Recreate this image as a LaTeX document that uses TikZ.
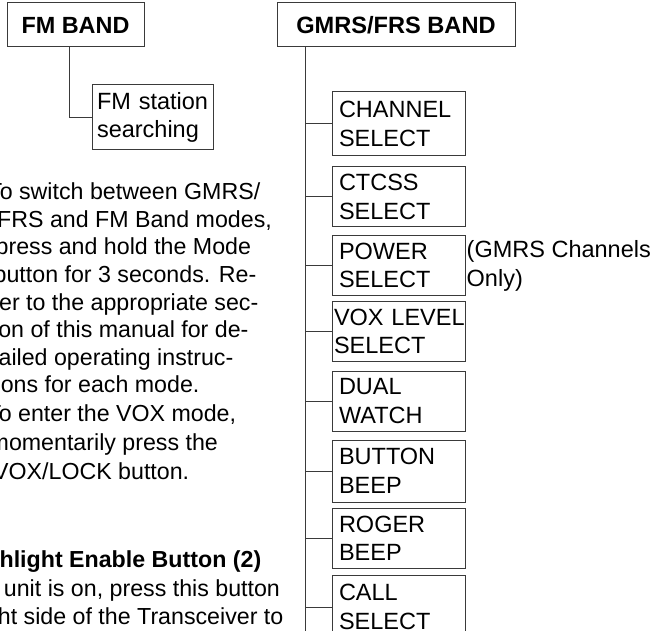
\documentclass[tikz,border=0pt]{standalone}
\usepackage{fontspec}
\setmainfont{Liberation Sans}
\usetikzlibrary{positioning}
\definecolor{boxline}{HTML}{3A3A3A}

\tikzset{
  band/.style={draw=boxline, line width=1pt, minimum height=44pt, inner sep=0pt,
               font=\fontsize{23.4}{28}\selectfont\bfseries},
  item/.style={draw=boxline, line width=1pt, minimum width=133pt, minimum height=60pt,
               text width=119pt, inner xsep=7pt, inner ysep=0pt, align=left,
               font=\fontsize{23.5}{28.5}\selectfont},
  link/.style={draw=boxline, line width=1pt},
  txt/.style={anchor=base west, inner sep=0pt, font=\fontsize{23.2}{28}\selectfont},
}

\begin{document}
\begin{tikzpicture}[x=1pt, y=-1pt]
    \fill[white] (0,0) rectangle (659,631);
    \useasboundingbox (0,0) rectangle (659,631);
    \clip (0,0) rectangle (659,631);

    % FM band
    \node[band, minimum width=137pt] (fm) at (75.5,25) {FM BAND};
    \node[item, minimum width=121pt, text width=111pt, inner xsep=5pt, minimum height=65pt]
        (fms) at (152.5,117.5) {\mbox{FM station}\\searching};
    \draw[link] ([xshift=-6.5pt]fm.south) |- (fms.west);

    % GMRS/FRS band
    \node[band, minimum width=238pt, font=\fontsize{23.6}{28}\selectfont\bfseries]
        (gmrs) at (396,25) {GMRS/FRS BAND};
    \coordinate (trunk) at (305,640);
    \draw[link] (gmrs.south -| trunk) -- (trunk);

    \node[item, minimum height=64pt] (chan) at (398.5,124) {CHANNEL\\SELECT};
    \node[item] (ctcss) at (398.5,197) {CTCSS\\SELECT};
    \node[item] (power) at (398.5,265.5) {POWER\\SELECT};
    \node[item, text width=129pt, inner xsep=2pt] (vox) at (398.5,331.5) {\mbox{VOX LEVEL}\\SELECT};
    \node[item] (dual) at (398.5,401) {DUAL\\WATCH};
    \node[item, minimum height=62pt] (button) at (398.5,471) {BUTTON\\BEEP};
    \node[item] (roger) at (398.5,538.5) {ROGER\\BEEP};
    \node[item, minimum height=64pt] (call) at (398.5,607) {CALL\\SELECT};

    \foreach \b in {chan,ctcss,power,vox,dual,button,roger,call}
        \draw[link] (trunk |- \b.west) -- (\b.west);

    \node[anchor=west, inner sep=1pt, align=left, font=\fontsize{23.5}{29}\selectfont]
        (gmrsnote) at (power.east) {(GMRS Channels\\Only)};

    % page text, cut at the left edge
    \node[txt] (l0) at (-12,200) {To switch between GMRS/};
    \node[txt] (l1) at (-3,227.5) {FRS and FM Band modes,};
    \node[txt] (l2) at (-4.5,255) {press and hold the Mode};
    \node[txt] (l3) at (-6.5,282.5) {button for 3 seconds. Re-};
    \node[txt] (l4) at (-7.5,310) {fer to the appropriate sec-};
    \node[txt] (l5) at (-13.5,337.5) {tion of this manual for de-};
    \node[txt] (l6) at (-8,365) {tailed operating instruc-};
    \node[txt] (l7) at (-11,392.5) {tions for each mode.};
    \node[txt] (l8) at (-13,421) {To enter the VOX mode,};
    \node[txt] (l9) at (-10.5,450) {momentarily press the};
    \node[txt] (l10) at (-7,479) {VOX/LOCK button.};
    \node[txt, font=\fontsize{23.2}{28}\selectfont\bfseries] (l13) at (-47,567.9) {Flashlight Enable Button (2)};
    \node[txt] (l14) at (-102,596.2) {When the unit is on, press this button};
    \node[txt] (l15) at (-99,624.5) {on the right side of the Transceiver to};
\end{tikzpicture}
\end{document}
